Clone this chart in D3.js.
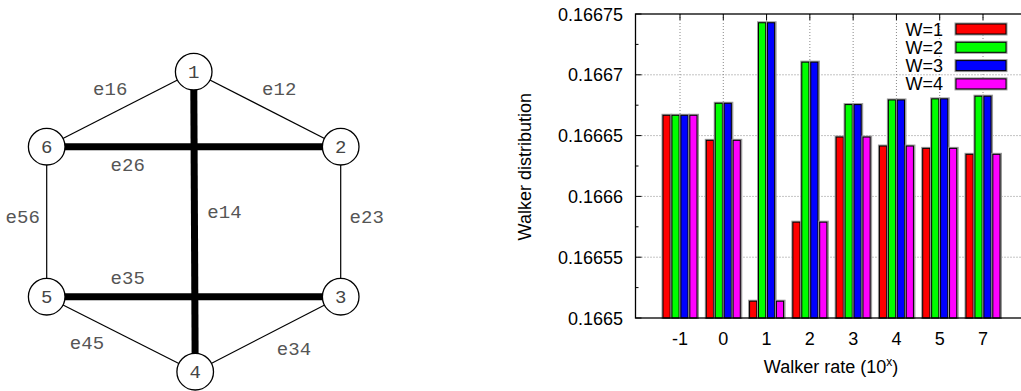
<!DOCTYPE html>
<html>
<head>
<meta charset="utf-8">
<script src="https://cdn.jsdelivr.net/npm/d3@7"></script>
<style>
  body { margin: 0; background: #fff; }
  svg { display: block; }
</style>
</head>
<body>
<svg id="fig" width="1021" height="391"></svg>
<script>
// ---- data: bar chart ----
var rates = ["-1", "0", "1", "2", "3", "4", "5", "7"];
var seriesNames = ["W=1", "W=2", "W=3", "W=4"];
var w1 = [0.1666667, 0.1666461, 0.1665138, 0.1665788, 0.1666488, 0.1666414, 0.1666395, 0.1666346];
var w2 = [0.1666667, 0.1666766, 0.1667428, 0.1667104, 0.1666755, 0.1666793, 0.1666802, 0.1666824];
var w3 = [0.1666667, 0.1666766, 0.1667428, 0.1667104, 0.1666755, 0.1666793, 0.1666802, 0.1666824];
var w4 = [0.1666667, 0.1666461, 0.1665138, 0.1665788, 0.1666488, 0.1666414, 0.1666395, 0.1666346];
var yTicks = [0.1665, 0.16655, 0.1666, 0.16665, 0.1667, 0.16675];
var yTickLabels = ["0.1665", "0.16655", "0.1666", "0.16665", "0.1667", "0.16675"];

// ---- data: graph ----
var nodes = ["1", "2", "3", "4", "5", "6"];
var edges = [
  ["1", "2", "e12", 1], ["1", "6", "e16", 1], ["2", "3", "e23", 1],
  ["5", "6", "e56", 1], ["4", "5", "e45", 1], ["3", "4", "e34", 1],
  ["1", "4", "e14", 2], ["2", "6", "e26", 2], ["3", "5", "e35", 2]
];

var colors = ["#ff0000", "#00ff00", "#0000ff", "#ff00ff"];
var svg = d3.select("#fig");

// ================= left: graph =================
// hexagon slots (column, row)
var slot = { "1": [1, 0], "2": [2, 1], "3": [2, 3], "4": [1, 4], "5": [0, 3], "6": [0, 1] };
var gx = d3.scaleLinear().domain([0, 2]).range([46.7, 340.7]);
var gy = d3.scaleLinear().domain([0, 4]).range([71.7, 371.7]);
function px(n) { return gx(slot[n][0]) + (n == "4" ? 1.5 : 0); }
function py(n) { return gy(slot[n][1]); }
// label offsets from edge midpoint
var lblOff = {
  e12: [12, -20], e16: [-10, -20], e23: [26, -5], e56: [-24, -5],
  e45: [-34, 9], e34: [26, 15], e14: [30, -10], e26: [-66, 18], e35: [-66, -19]
};
var mono = "'Liberation Mono', 'Courier New', monospace";

var g = svg.append("g");
g.selectAll("line.edge").data(edges).enter().append("line")
  .attr("x1", d => px(d[0])).attr("y1", d => py(d[0]))
  .attr("x2", d => px(d[1])).attr("y2", d => py(d[1]))
  .attr("stroke", "#000")
  .attr("stroke-width", d => d[3] == 2 ? 7 : 1.2);

g.selectAll("circle").data(nodes).enter().append("circle")
  .attr("cx", px).attr("cy", py).attr("r", 18.3)
  .attr("fill", "#fff").attr("stroke", "#000").attr("stroke-width", 1.3);

g.selectAll("text.node").data(nodes).enter().append("text")
  .attr("x", px).attr("y", d => py(d) + 6)
  .attr("text-anchor", "middle")
  .style("font-family", mono).style("font-size", "19px")
  .attr("fill", "#444").text(d => d);

g.selectAll("text.edge").data(edges).enter().append("text")
  .attr("x", d => (px(d[0]) + px(d[1])) / 2 + lblOff[d[2]][0])
  .attr("y", d => (py(d[0]) + py(d[1])) / 2 + lblOff[d[2]][1] + 6)
  .attr("text-anchor", "middle")
  .style("font-family", mono).style("font-size", "19px")
  .attr("fill", "#555").text(d => d[2]);

// ================= right: bar chart =================
var pLeft = 635.5, pTop = 14, pBottom = 318, pRight = 1027;
var x = d3.scalePoint().domain(rates).range([680, 983]);
var y = d3.scaleLinear().domain([0.1665, 0.16675]).range([pBottom, pTop]);
var sub = d3.scaleBand().domain(seriesNames).range([-17, 17]).paddingInner(0.2);
var series = [w1, w2, w3, w4];
var font = "'Liberation Sans', Arial, sans-serif";

var c = svg.append("g");
// grid
c.selectAll("line.hg").data(yTicks.slice(1, -1)).enter().append("line")
  .attr("x1", pLeft).attr("x2", pRight).attr("y1", y).attr("y2", y)
  .attr("stroke", "#888").attr("stroke-width", 1).attr("stroke-dasharray", "1,2");
c.selectAll("line.vg").data(rates).enter().append("line")
  .attr("y1", pTop).attr("y2", pBottom).attr("x1", x).attr("x2", x)
  .attr("stroke", "#888").attr("stroke-width", 1).attr("stroke-dasharray", "1,2");

// bars
series.forEach(function (vals, si) {
  var gs = c.append("g");
  var sel = gs.selectAll("rect").data(vals).enter();
  sel.append("rect")
    .attr("x", (d, i) => x(rates[i]) + sub(seriesNames[si]) - 0.5)
    .attr("y", d => y(d) - 0.5)
    .attr("width", sub.bandwidth() + 1.5)
    .attr("height", d => pBottom - y(d) + 0.5)
    .attr("fill", "none").attr("stroke", "#999").attr("stroke-width", 2);
  sel.append("rect")
    .attr("x", (d, i) => x(rates[i]) + sub(seriesNames[si]))
    .attr("y", d => y(d))
    .attr("width", sub.bandwidth())
    .attr("height", d => pBottom - y(d))
    .attr("fill", colors[si]).attr("stroke", "#000").attr("stroke-width", 1);
});

// frame
c.append("rect").attr("x", pLeft).attr("y", pTop)
  .attr("width", pRight - pLeft).attr("height", pBottom - pTop)
  .attr("fill", "none").attr("stroke", "#000").attr("stroke-width", 1.3);

// y ticks (major + minor, inward)
var minor = d3.range(yTicks.length - 1).map(i => (yTicks[i] + yTicks[i + 1]) / 2);
c.selectAll("line.ymaj").data(yTicks).enter().append("line")
  .attr("x1", pLeft).attr("x2", pLeft + 6).attr("y1", y).attr("y2", y)
  .attr("stroke", "#000");
c.selectAll("line.ymin").data(minor).enter().append("line")
  .attr("x1", pLeft).attr("x2", pLeft + 3).attr("y1", y).attr("y2", y)
  .attr("stroke", "#000");
c.selectAll("line.xtop").data(rates).enter().append("line")
  .attr("x1", x).attr("x2", x).attr("y1", pTop).attr("y2", pTop + 6)
  .attr("stroke", "#000");

c.selectAll("text.yl").data(yTicks).enter().append("text")
  .attr("x", 623).attr("y", d => y(d) + 6.5)
  .attr("text-anchor", "end")
  .style("font-family", font).style("font-size", "18px")
  .text((d, i) => yTickLabels[i]);

c.selectAll("text.xl").data(rates).enter().append("text")
  .attr("x", x).attr("y", 344.5)
  .attr("text-anchor", "middle")
  .style("font-family", font).style("font-size", "18px")
  .text(d => d);

// axis titles
c.append("text")
  .attr("transform", "translate(530.5,166.7) rotate(-90)")
  .attr("text-anchor", "middle")
  .style("font-family", font).style("font-size", "18px")
  .text("Walker distribution");
var xt = c.append("text").attr("x", 831).attr("y", 373.3)
  .attr("text-anchor", "middle")
  .style("font-family", font).style("font-size", "18px");
xt.append("tspan").text("Walker rate (10");
xt.append("tspan").attr("dy", -7).style("font-size", "12px").text("x");
xt.append("tspan").attr("dy", 7).text(")");

// legend
var leg = c.selectAll("g.leg").data(seriesNames).enter().append("g")
  .attr("transform", (d, i) => "translate(0," + (29 + i * 18.3) + ")");
leg.append("text").attr("x", 943).attr("y", 6.5)
  .attr("text-anchor", "end")
  .style("font-family", font).style("font-size", "18px")
  .text(d => d);
leg.append("rect").attr("x", 955.5).attr("y", -5.5).attr("width", 51).attr("height", 11)
  .attr("fill", "none").attr("stroke", "#999").attr("stroke-width", 2);
leg.append("rect").attr("x", 956).attr("y", -5).attr("width", 50).attr("height", 10)
  .attr("fill", (d, i) => colors[i]).attr("stroke", "#000");
</script>
</body>
</html>
